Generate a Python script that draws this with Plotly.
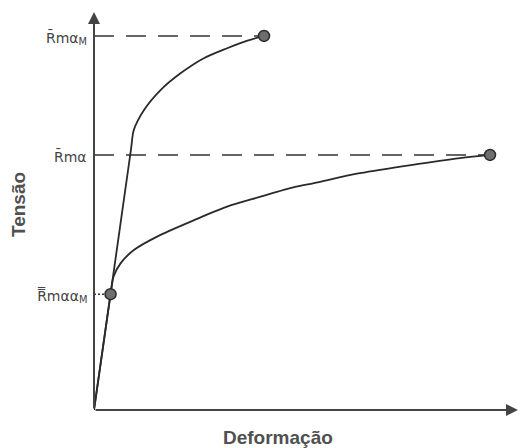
import plotly.graph_objects as go

# Curve A (upper, reaches R̄mα_M)
curve_a_x = [0, 3.9, 8.7, 9.4, 11.8, 15.7, 20.4, 25.9, 31.4, 36.2, 40.1]
curve_a_y = [0, 29.1, 65.3, 70.4, 75.4, 80.4, 84.6, 88.4, 90.9, 92.8, 94.0]
# Curve B (lower, reaches R̄mα)
curve_b_x = [0, 3.9, 4.6, 6.3, 9.4, 15.7, 23.6, 31.4, 39.3, 47.2, 51.9, 62.7, 86.3, 93.4]
curve_b_y = [0, 29.1, 33.5, 36.9, 40.2, 44.0, 47.7, 51.1, 53.6, 56.0, 57.0, 59.5, 63.3, 64.1]
# Marked points
point_x = [40.1, 93.4, 3.9]
point_y = [94.0, 64.1, 29.1]
point_labels = ["R̄mα<sub>M</sub>", "R̄mα", "R̿mαα<sub>M</sub>"]
x_title = "Deformação"
y_title = "Tensão"

ink = "#333333"
fig = go.Figure()

# reference lines from the axis to each point
dashes = ["20px,12px", "20px,12px", "2px,2px"]
for px, py, d in zip(point_x, point_y, dashes):
    fig.add_trace(go.Scatter(x=[0, px], y=[py, py], mode="lines",
                             line=dict(color=ink, width=1.5, dash=d),
                             hoverinfo="skip", showlegend=False))

for cx, cy in [(curve_a_x, curve_a_y), (curve_b_x, curve_b_y)]:
    fig.add_trace(go.Scatter(x=cx, y=cy, mode="lines",
                             line=dict(color="#2a2a2a", width=1.8, shape="spline", smoothing=0.8),
                             showlegend=False, cliponaxis=False))

fig.add_trace(go.Scatter(x=point_x, y=point_y, mode="markers",
                         marker=dict(size=11, color="#6e6e6e", line=dict(color="#2a2a2a", width=1.5)),
                         showlegend=False, cliponaxis=False))

# axes with arrows
fig.add_annotation(x=0, y=100, ax=0, ay=0, xref="x", yref="y", axref="x", ayref="y",
                   showarrow=True, arrowhead=2, arrowsize=1.2, arrowwidth=2, arrowcolor="#444", text="")
fig.add_annotation(x=100, y=0, ax=0, ay=0, xref="x", yref="y", axref="x", ayref="y",
                   showarrow=True, arrowhead=2, arrowsize=1.2, arrowwidth=2, arrowcolor="#444", text="")

for py, lab in zip(point_y, point_labels):
    fig.add_annotation(x=0, y=py, xref="x", yref="y", text=lab, showarrow=False,
                       xanchor="right", xshift=-5, yshift=-2,
                       font=dict(family="DejaVu Sans", size=14, color="#444444"))

fig.add_annotation(x=0.434, y=0, xref="paper", yref="paper", text=f"<b>{x_title}</b>",
                   showarrow=False, yshift=-27, xanchor="center", yanchor="middle",
                   font=dict(family="Liberation Sans", size=19, color="#505050"))
fig.add_annotation(x=0, y=0.515, xref="paper", yref="paper", text=f"<b>{y_title}</b>",
                   showarrow=False, xshift=-76, textangle=-90, xanchor="center", yanchor="middle",
                   font=dict(family="Liberation Sans", size=19, color="#505050"))

fig.update_xaxes(range=[0, 100], visible=False)
fig.update_yaxes(range=[0, 100], visible=False)
fig.update_layout(width=520, height=448, margin=dict(l=94, r=2, t=12, b=38, autoexpand=False),
                  plot_bgcolor="white", paper_bgcolor="white")
fig.write_html("out.html", config={"displayModeBar": False},
               post_script="document.body.style.margin='0';")
